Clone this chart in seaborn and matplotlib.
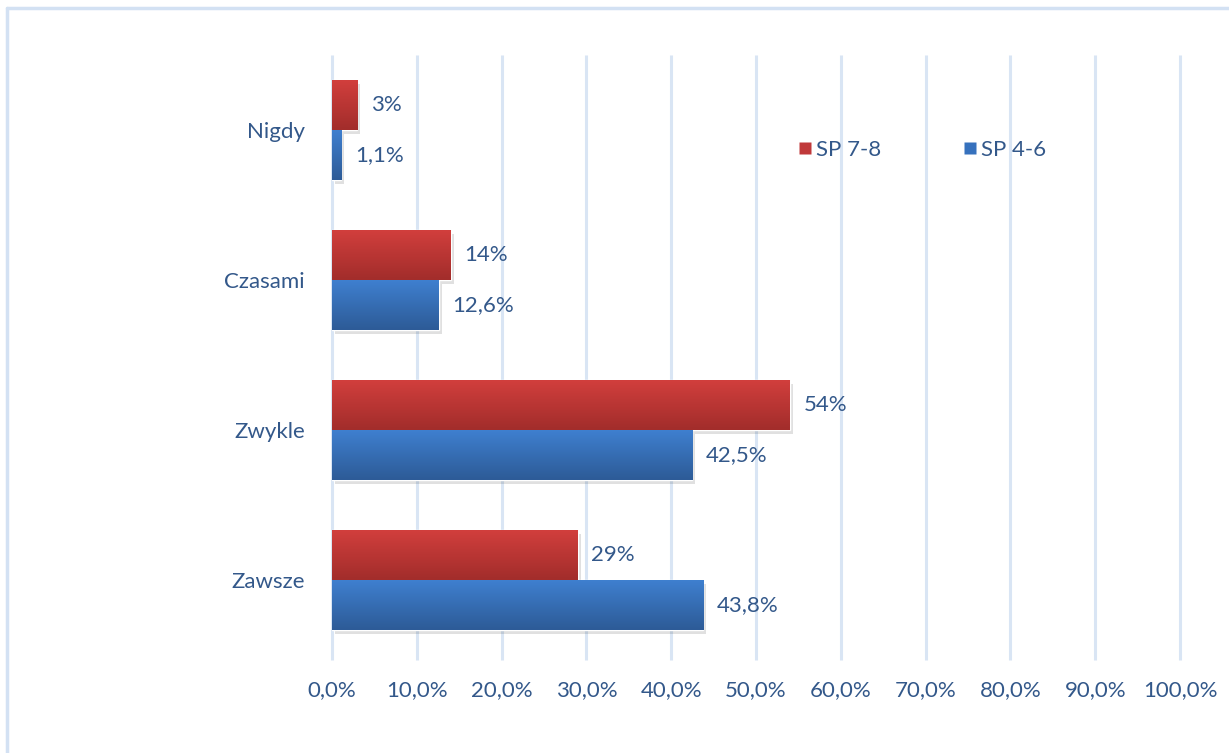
import numpy as np
import pandas as pd
import matplotlib
matplotlib.use("Agg")
import matplotlib.pyplot as plt
import seaborn as sns
from matplotlib.colors import LinearSegmentedColormap
from matplotlib.lines import Line2D
from matplotlib.patches import Rectangle

# Survey answers and shares per school level (percent)
categories = ["Nigdy", "Czasami", "Zwykle", "Zawsze"]
series_names = ["SP 7-8", "SP 4-6"]
sp78_values = [3, 14, 54, 29]
sp46_values = [1.1, 12.6, 42.5, 43.8]
sp78_labels = ["3%", "14%", "54%", "29%"]
sp46_labels = ["1,1%", "12,6%", "42,5%", "43,8%"]
x_ticks = [0, 10, 20, 30, 40, 50, 60, 70, 80, 90, 100]
x_tick_labels = ["0,0%", "10,0%", "20,0%", "30,0%", "40,0%", "50,0%",
                 "60,0%", "70,0%", "80,0%", "90,0%", "100,0%"]

df = pd.DataFrame({
    "kategoria": categories * 2,
    "seria": [series_names[0]] * 4 + [series_names[1]] * 4,
    "wartosc": sp78_values + sp46_values,
})

TEXT = "#33588A"
GRID = "#D9E5F4"
FS = 16
palette = {"SP 7-8": "#C0393A", "SP 4-6": "#3671BD"}
gradients = {
    "SP 7-8": ("#D23F3D", "#A22D2B"),
    "SP 4-6": ("#3F80D0", "#2D5B97"),
}

sns.set_theme(style="white")
plt.rcParams["font.family"] = ["Lato", "DejaVu Sans"]

fig = plt.figure(figsize=(12.29, 7.53), dpi=100)
ax = fig.add_axes([332 / 1229, 1 - 655 / 753, 848 / 1229, 600 / 753])

sns.barplot(data=df, y="kategoria", x="wartosc", hue="seria", order=categories,
            hue_order=series_names, palette=palette, orient="h", width=0.667,
            dodge=True, legend=False, ax=ax, saturation=1)

ax.set_xlim(0, 100)
ax.set_ylim(3.5, -0.5)
ax.set_xticks(x_ticks)
ax.set_xticklabels(x_tick_labels, fontsize=FS, color=TEXT)
ax.tick_params(axis="x", length=0, pad=18)
ax.tick_params(axis="y", length=0, pad=19.5, labelsize=FS, labelcolor=TEXT)
ax.set_xlabel("")
ax.set_ylabel("")
for s in ax.spines.values():
    s.set_visible(False)

# vertical gridlines, slightly extended below the plot area
for t in x_ticks:
    ax.plot([t, t], [-0.5, 3.53], color=GRID, lw=2.2, zorder=0,
            clip_on=False, solid_capstyle="butt")

# gradient fill and soft shadow for every bar
bars_by_series = [ax.containers[0], ax.containers[1]]
all_labels = [sp78_labels, sp46_labels]
for name, cont, labels in zip(series_names, bars_by_series, all_labels):
    top, bottom = gradients[name]
    cmap = LinearSegmentedColormap.from_list(name, [top, bottom])
    for bar, lab in zip(cont, labels):
        x0, y0 = bar.get_x(), bar.get_y()
        w, h = bar.get_width(), bar.get_height()
        shadow = Rectangle((x0 + 0.35, y0 + 0.025), w, h, facecolor="#000000",
                           alpha=0.12, edgecolor="none", zorder=1.5)
        ax.add_patch(shadow)
        bar.set_zorder(2)
        grad = np.linspace(0, 1, 64).reshape(-1, 1)
        im = ax.imshow(grad, cmap=cmap, aspect="auto",
                       extent=[x0, x0 + w, y0 + h, y0], zorder=2.5,
                       interpolation="bilinear")
        im.set_clip_path(bar)
        ax.text(x0 + w + 1.6, y0 + h / 2, lab, va="center", ha="left",
                fontsize=FS, color=TEXT)

ax.set_xlim(0, 100)
ax.set_ylim(3.5, -0.5)

handles = [Line2D([], [], marker="s", linestyle="none", markersize=8,
                  markerfacecolor=palette[n], markeredgecolor="none")
           for n in series_names]
fig.legend(handles, series_names, loc="center left",
           bbox_to_anchor=(778 / 1229, 1 - 150 / 753), ncol=2, frameon=False,
           fontsize=FS, labelcolor=TEXT, handletextpad=0.0,
           columnspacing=3.5, handlelength=1.0, borderpad=0.2)

# thin frame lines along the top and left edges
fig.add_artist(Line2D([7 / 1229, 1], [1 - 8 / 753, 1 - 8 / 753],
                      color="#D3E1F3", lw=2.5, transform=fig.transFigure))
fig.add_artist(Line2D([7 / 1229, 7 / 1229], [0, 1 - 8 / 753],
                      color="#D3E1F3", lw=2.5, transform=fig.transFigure))

fig.savefig("out.png", dpi=100, facecolor="white")
